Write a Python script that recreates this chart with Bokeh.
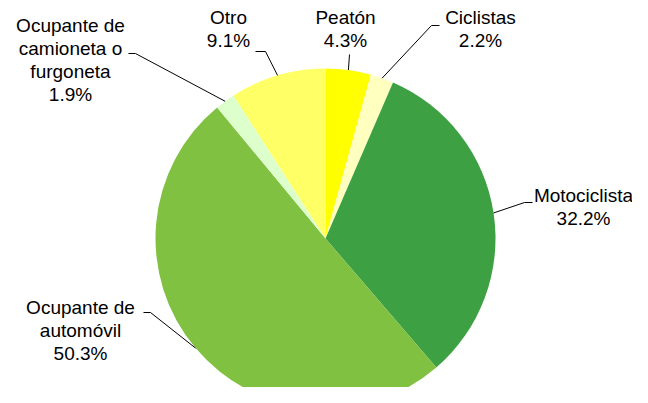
import math
from bokeh.plotting import figure
from bokeh.models import ColumnDataSource
from bokeh.core.properties import value
from bokeh.embed import file_html
from bokeh.resources import INLINE

# ---- data ----
categories = ["Peatón", "Ciclistas", "Motociclista", "Ocupante de automóvil",
              "Ocupante de camioneta o furgoneta", "Otro"]
percent = [4.3, 2.2, 32.2, 50.3, 1.9, 9.1]
colors = ["#FFFF00", "#FFFFC0", "#3DA043", "#80C141", "#DDFFCC", "#FFFF66"]
label_lines = [["Peatón", "4.3%"], ["Ciclistas", "2.2%"], ["Motociclista", "32.2%"],
               ["Ocupante de", "automóvil", "50.3%"],
               ["Ocupante de", "camioneta o", "furgoneta", "1.9%"], ["Otro", "9.1%"]]

# ---- layout (image pixel coords, y down) ----
H = 403
W_FIG, H_FIG = 632, 387
cx, cy, R = 325, 238, 170
label_center = [(345, 17), (480, 17), (583, 195), (80, 307), (70, 25), (228, 17)]
line_step = 23
elbow = [None, (431, 25), (524, 202), (150, 312), (135, 53), (265, 51)]
elbow_end = [(349, 54), (439, 25), (532, 202), (143, 312), (128, 53), (255, 51)]

def Y(py):
    return H - py

p = figure(width=W_FIG, height=H_FIG, x_range=(0, W_FIG), y_range=(Y(H_FIG), Y(0)),
           output_backend="svg", toolbar_location=None, min_border=0)
p.axis.visible = False
p.grid.visible = False
p.outline_line_color = None

total = sum(percent)
starts, ends, mids = [], [], []
cum = 0.0
for v in percent:
    a0 = math.pi / 2 - 2 * math.pi * cum / total
    cum += v
    a1 = math.pi / 2 - 2 * math.pi * cum / total
    starts.append(a0)
    ends.append(a1)
    mids.append((a0 + a1) / 2)

src = ColumnDataSource(dict(x=[cx] * len(percent), y=[Y(cy)] * len(percent),
                            start=ends, end=starts, color=colors))
p.wedge(x="x", y="y", radius=R, start_angle="start", end_angle="end",
        fill_color="color", line_color=None, source=src)

# leader lines
for i, m in enumerate(mids):
    ax = cx + R * math.cos(m)
    ay = Y(cy) + R * math.sin(m)
    xs, ys = [ax], [ay]
    if elbow[i] is not None:
        xs.append(elbow[i][0]); ys.append(Y(elbow[i][1]))
    xs.append(elbow_end[i][0]); ys.append(Y(elbow_end[i][1]))
    p.line(xs, ys, line_color="black", line_width=1)

# labels
tx, ty, tt = [], [], []
for i, lines in enumerate(label_lines):
    lx, ly = label_center[i]
    for k, t in enumerate(lines):
        tx.append(lx); ty.append(Y(ly + k * line_step)); tt.append(t)
p.text(x=tx, y=ty, text=tt, text_align="center", text_baseline="middle",
       text_font=value("Liberation Sans"), text_font_size="19px", text_color="black")

open("out.html", "w").write(file_html(p, INLINE))
